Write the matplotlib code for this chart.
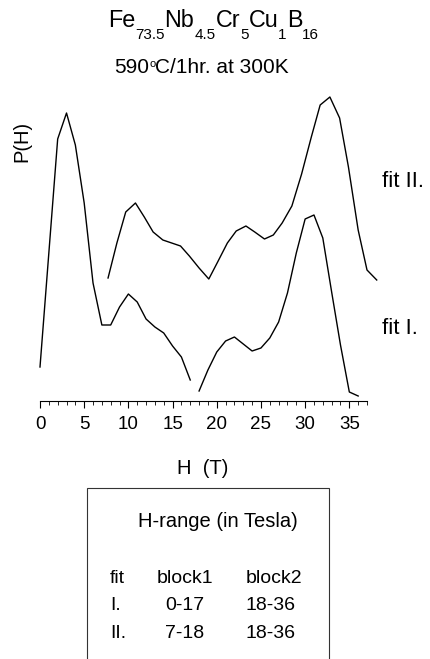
import matplotlib
matplotlib.use("Agg")
import matplotlib.pyplot as plt
from matplotlib.patches import Rectangle
from matplotlib.ticker import MultipleLocator

# P(H), arbitrary units (0 = the H axis line)
h_fit1_block1 = [0, 1, 2, 3, 4, 5, 6, 7, 8, 9, 10, 11, 12, 13, 14, 15, 16, 17]
p_fit1_block1 = [3.4, 14.8, 26.2, 28.8, 25.6, 19.8, 11.8, 7.6, 7.6, 9.4,
                 10.7, 9.9, 8.2, 7.4, 6.8, 5.5, 4.4, 2.1]
h_fit1_block2 = [18, 19, 20, 21, 22, 23, 24, 25, 26, 27, 28, 29, 30, 31, 32, 33, 34, 35, 36]
p_fit1_block2 = [1.0, 3.1, 4.9, 6.0, 6.4, 5.7, 5.0, 5.3, 6.3, 7.9,
                 10.8, 14.8, 18.2, 18.6, 16.3, 10.9, 5.6, 0.9, 0.5]

# fit II is drawn shifted up in the original
h_fit2 = [7.7, 8.7, 9.7, 10.8, 11.8, 12.8, 13.9, 14.9, 15.9, 16.9,
          18.0, 19.1, 20.1, 21.2, 22.2, 23.3, 24.3, 25.4, 26.4, 27.4,
          28.5, 29.6, 30.7, 31.7, 32.8, 33.9, 34.9, 36.0, 37.0, 38.1]
p_fit2 = [12.3, 15.8, 18.9, 19.8, 18.4, 16.9, 16.1, 15.8, 15.5, 14.5,
          13.3, 12.2, 13.9, 15.8, 17.0, 17.5, 16.9, 16.2, 16.6, 17.8,
          19.5, 22.7, 26.4, 29.6, 30.4, 28.3, 23.4, 17.1, 13.1, 12.1]

title_runs = [("Fe", "main"), ("73.5", "sub"), ("Nb", "main"), ("4.5", "sub"),
              ("Cr", "main"), ("5", "sub"), ("Cu", "main"), ("1", "sub"),
              ("B", "main"), ("16", "sub")]
subtitle_runs = [("590", "main"), ("o", "sup"), ("C/1hr. at 300K", "main")]

table_title = "H-range (in Tesla)"
table_header = ["fit", "block1", "block2"]
table_rows = [["I.", "0-17", "18-36"],
              ["II.", "7-18", "18-36"]]

W, H = 430, 659


def fx(x):
    return x / W


def fy(y):
    return 1 - y / H


def put_runs(fig, runs, cx, base, sizes, shifts):
    # lay out pieces of text one after another, centred on cx
    renderer = fig.canvas.get_renderer()
    texts = []
    for s, kind in runs:
        t = fig.text(0, fy(base + shifts[kind]), s, fontsize=sizes[kind],
                     ha="left", va="baseline")
        texts.append(t)
    widths = [t.get_window_extent(renderer).width for t in texts]
    x = cx - sum(widths) / 2
    for t, w in zip(texts, widths):
        t.set_x(fx(x))
        x += w


def main():
    plt.rcParams["font.family"] = ["Liberation Sans", "DejaVu Sans"]
    fig = plt.figure(figsize=(W / 100, H / 100), dpi=100)

    ax = fig.add_axes([fx(40), fy(401), 327 / W, 311 / H])
    ax.plot(h_fit1_block1, p_fit1_block1, color="black", lw=1.0, clip_on=False)
    ax.plot(h_fit1_block2, p_fit1_block2, color="black", lw=1.0, clip_on=False)
    ax.plot(h_fit2, p_fit2, color="black", lw=1.0, clip_on=False)

    ax.set_xlim(0, 37)
    ax.set_ylim(0, 31.1)
    for s in ["left", "right", "top"]:
        ax.spines[s].set_visible(False)
    ax.spines["bottom"].set_linewidth(0.8)
    ax.set_yticks([])
    ax.xaxis.set_major_locator(MultipleLocator(5))
    ax.xaxis.set_minor_locator(MultipleLocator(1))
    ax.tick_params(axis="x", which="major", direction="out", length=5, width=0.8,
                   labelsize=13.5, pad=6)
    ax.tick_params(axis="x", which="minor", direction="out", length=3, width=0.6)

    fig.text(fx(203), fy(474), "H  (T)", fontsize=14.5, ha="center", va="baseline")
    fig.text(fx(22), fy(141), "P(H)", fontsize=14.5, rotation=90, ha="center", va="center")
    fig.text(fx(382), fy(187), "fit II.", fontsize=16, ha="left", va="baseline")
    fig.text(fx(382), fy(334), "fit I.", fontsize=16, ha="left", va="baseline")

    put_runs(fig, title_runs, 213.5, 26.7, {"main": 16.8, "sub": 11}, {"main": 0, "sub": 12.6})
    put_runs(fig, subtitle_runs, 201.7, 72.7, {"main": 15, "sup": 8}, {"main": 0, "sup": -6})

    # range table in a box that runs off the bottom edge
    fig.patches.append(Rectangle((fx(87.3), fy(664)), (329.3 - 87.3) / W, (664 - 488.3) / H,
                                 transform=fig.transFigure, fill=False,
                                 edgecolor="#333333", lw=0.8))
    fig.text(fx(218), fy(527), table_title, fontsize=14.5, ha="center", va="baseline")
    row_y = [583.3, 610, 638.3]
    for row, y in zip([table_header] + table_rows, row_y):
        fig.text(fx(110), fy(y), row[0], fontsize=14, ha="left", va="baseline")
        fig.text(fx(185), fy(y), row[1], fontsize=14, ha="center", va="baseline")
        fig.text(fx(246), fy(y), row[2], fontsize=14, ha="left", va="baseline")

    fig.savefig("out.png", dpi=100)
    plt.close(fig)


if __name__ == "__main__":
    main()
